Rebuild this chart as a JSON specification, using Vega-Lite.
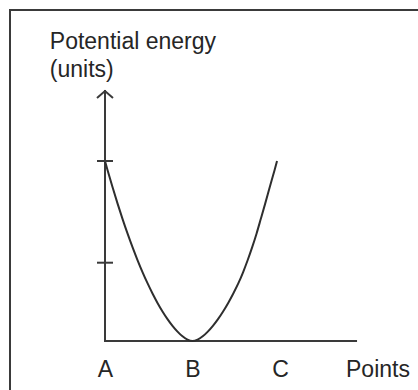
{
  "$schema": "https://vega.github.io/schema/vega-lite/v6.json",
  "width": 408,
  "height": 380,
  "padding": {"left": 10, "top": 10, "right": 0, "bottom": 0},
  "autosize": {"type": "none"},
  "background": "white",
  "config": {
    "view": {"stroke": null},
    "font": "Liberation Sans"
  },
  "datasets": {
    "energy": [
      {"pos": 0.0, "pe": 10.0},
      {"pos": 0.0286, "pe": 9.504},
      {"pos": 0.0857, "pe": 8.551},
      {"pos": 0.1429, "pe": 7.646},
      {"pos": 0.2, "pe": 6.787},
      {"pos": 0.2571, "pe": 5.976},
      {"pos": 0.3143, "pe": 5.214},
      {"pos": 0.3714, "pe": 4.499},
      {"pos": 0.4286, "pe": 3.831},
      {"pos": 0.4857, "pe": 3.212},
      {"pos": 0.5429, "pe": 2.641},
      {"pos": 0.6, "pe": 2.117},
      {"pos": 0.6571, "pe": 1.643},
      {"pos": 0.7143, "pe": 1.218},
      {"pos": 0.7714, "pe": 0.843},
      {"pos": 0.8286, "pe": 0.522},
      {"pos": 0.8857, "pe": 0.259},
      {"pos": 0.9429, "pe": 0.073},
      {"pos": 1.0, "pe": 0.0},
      {"pos": 1.0583, "pe": 0.073},
      {"pos": 1.1166, "pe": 0.259},
      {"pos": 1.1749, "pe": 0.522},
      {"pos": 1.2331, "pe": 0.843},
      {"pos": 1.2914, "pe": 1.218},
      {"pos": 1.3497, "pe": 1.643},
      {"pos": 1.408, "pe": 2.117},
      {"pos": 1.4663, "pe": 2.641},
      {"pos": 1.5246, "pe": 3.212},
      {"pos": 1.5789, "pe": 3.831},
      {"pos": 1.6311, "pe": 4.499},
      {"pos": 1.6823, "pe": 5.214},
      {"pos": 1.7325, "pe": 5.976},
      {"pos": 1.7808, "pe": 6.787},
      {"pos": 1.8314, "pe": 7.646},
      {"pos": 1.8832, "pe": 8.551},
      {"pos": 1.9384, "pe": 9.504},
      {"pos": 1.966, "pe": 10.0}
    ],
    "energyTicks": [
      {"pos": 0, "pe": 10.0},
      {"pos": 0, "pe": 4.35}
    ],
    "lines": [
      {"part": "frame left", "pos": -1.0857, "pos2": -1.0857, "pe": -2.7222, "pe2": 18.3889},
      {"part": "frame top", "pos": -1.0857, "pos2": 3.5771, "pe": 18.3889, "pe2": 18.3889},
      {"part": "energy axis", "pos": 0, "pos2": 0, "pe": 0, "pe2": 13.89},
      {"part": "points axis", "pos": 0, "pos2": 2.869, "pe": 0, "pe2": 0}
    ],
    "arrowTip": [
      {"pos": 0, "pe": 13.89}
    ]
  },
  "encoding": {
    "x": {
      "field": "pos", "type": "quantitative",
      "scale": {"domain": [-1.0857, 3.5771], "nice": false, "zero": false},
      "axis": {
        "orient": "bottom", "offset": -49,
        "values": [0, 1, 2],
        "labelExpr": "['A', 'B', 'C'][datum.value]",
        "domain": false, "ticks": false, "tickSize": 0, "grid": false,
        "labelFont": "Liberation Sans", "labelFontSize": 23, "labelColor": "#262626",
        "labelBaseline": "alphabetic", "labelPadding": 35.7,
        "labelFlush": false, "labelOverlap": false,
        "title": "Points",
        "titleFont": "Liberation Sans", "titleFontSize": 23, "titleFontWeight": "normal", "titleColor": "#262626",
        "titleAlign": "left", "titleBaseline": "alphabetic",
        "titleX": 335.5, "titleY": 35.7
      }
    },
    "y": {
      "field": "pe", "type": "quantitative",
      "scale": {"domain": [-2.7222, 18.3889], "nice": false, "zero": false},
      "axis": {
        "orient": "left", "offset": -95,
        "domain": false, "ticks": false, "labels": false, "grid": false,
        "title": ["Potential energy", "(units)"],
        "titleFont": "Liberation Sans", "titleFontSize": 23, "titleFontWeight": "normal", "titleColor": "#262626",
        "titleAngle": 0, "titleAlign": "left", "titleBaseline": "alphabetic",
        "titleLineHeight": 28,
        "titleX": -55.7, "titleY": 38.3
      }
    }
  },
  "layer": [
    {
      "description": "Frame edges and the two axis lines",
      "data": {"name": "lines"},
      "mark": {"type": "rule", "color": "#3a3a3a", "strokeWidth": 2, "strokeCap": "square"},
      "encoding": {
        "x2": {"field": "pos2"},
        "y2": {"field": "pe2"}
      }
    },
    {
      "description": "Potential energy curve",
      "data": {"name": "energy"},
      "mark": {"type": "line", "color": "#2e2e2e", "strokeWidth": 2, "interpolate": "monotone"}
    },
    {
      "description": "Tick marks crossing the energy axis",
      "data": {"name": "energyTicks"},
      "mark": {"type": "tick", "orient": "horizontal", "color": "#3a3a3a", "size": 16, "thickness": 2, "opacity": 1}
    },
    {
      "description": "Open arrowhead at the top of the energy axis",
      "data": {"name": "arrowTip"},
      "mark": {
        "type": "point",
        "shape": "M-1,0.875L0,0L1,0.875",
        "size": 256,
        "filled": false,
        "stroke": "#3a3a3a",
        "strokeWidth": 2,
        "opacity": 1
      }
    }
  ]
}
